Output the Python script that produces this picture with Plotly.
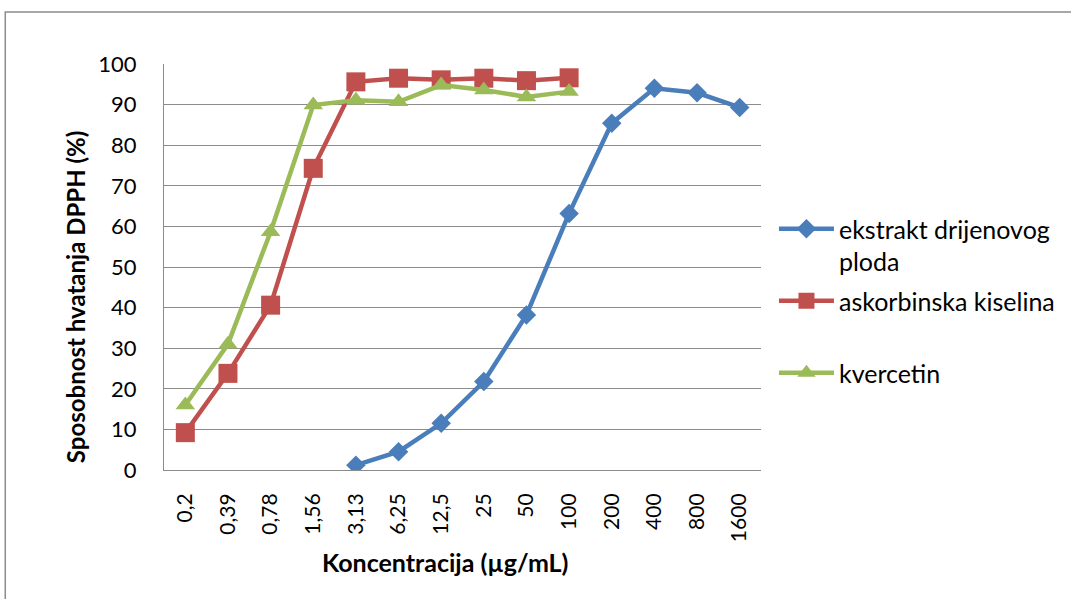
import plotly.graph_objects as go

categories = ["0,2", "0,39", "0,78", "1,56", "3,13", "6,25", "12,5", "25", "50", "100", "200", "400", "800", "1600"]
ekstrakt = [None, None, None, None, 1.2, 4.5, 11.5, 21.8, 38.2, 63.2, 85.4, 94.0, 92.9, 89.3]
askorbinska = [9.2, 23.8, 40.6, 74.3, 95.6, 96.5, 96.1, 96.5, 95.9, 96.6, None, None, None, None]
kvercetin = [16.0, 31.0, 58.7, 89.9, 91.1, 90.7, 94.8, 93.6, 91.9, 93.2, None, None, None, None]
y_ticks = [0, 10, 20, 30, 40, 50, 60, 70, 80, 90, 100]

FONT = "Lato, Carlito, 'Open Sans', sans-serif"

# plot-area geometry in page pixels (used for converting to paper coords)
L, R, T, B = 164, 762, 64, 470
W, H = R - L, B - T

def px(x):
    return (x - L) / W

def py(y):
    return (B - y) / H

fig = go.Figure()
fig.add_trace(go.Scatter(x=categories, y=ekstrakt, mode="lines+markers",
                         name="ekstrakt drijenovog<br>ploda", legendgroup="a",
                         line=dict(color="#4A7EBB", width=4.5),
                         marker=dict(symbol="diamond", size=15, color="#4A7EBB")))
fig.add_trace(go.Scatter(x=categories, y=askorbinska, mode="lines+markers",
                         name="askorbinska kiselina<br> ", legendgroup="b",
                         line=dict(color="#C0504D", width=4.5),
                         marker=dict(symbol="square", size=19, color="#C0504D")))
fig.add_trace(go.Scatter(x=categories, y=kvercetin, mode="lines+markers",
                         name="kvercetin<br> ", legendgroup="c",
                         line=dict(color="#9BBB59", width=4.5),
                         marker=dict(symbol="triangle-up", size=17, color="#9BBB59")))

fig.update_layout(
    width=1071, height=599,
    margin=dict(l=L, r=1071 - R, t=T, b=599 - B),
    paper_bgcolor="white", plot_bgcolor="white",
    font=dict(family=FONT, size=22, color="black"),
    showlegend=True,
    legend=dict(x=1.02, y=py(206), xanchor="left", yanchor="top",
                valign="top",
                font=dict(family=FONT, size=25, color="black"),
                tracegroupgap=4, itemwidth=55, bgcolor="rgba(0,0,0,0)"),
    xaxis=dict(type="category", categoryorder="array", categoryarray=categories,
               tickangle=-90, showgrid=False, showline=True, linecolor="#8c8c8c",
               linewidth=1, ticks="", ticklabelstandoff=14, tickfont=dict(family=FONT, size=21),
               range=[-0.5, 13.5], zeroline=False, automargin=False),
    yaxis=dict(range=[0, 100], tickvals=y_ticks, showgrid=True, gridcolor="#8c8c8c",
               gridwidth=1, showline=True, linecolor="#8c8c8c", linewidth=1,
               ticks="", ticklabelstandoff=22,
               tickfont=dict(family=FONT, size=22), zeroline=False, automargin=False),
)
fig.add_annotation(text="<b>Sposobnost hvatanja DPPH (%)</b>", xref="paper", yref="paper",
                   x=px(75), y=py(297), xanchor="center", yanchor="middle", textangle=-90,
                   showarrow=False, font=dict(family=FONT, size=24, color="black"))
fig.add_annotation(text="<b>Koncentracija (µg/mL)</b>", xref="paper", yref="paper",
                   x=px(445), y=py(562), xanchor="center", yanchor="middle",
                   showarrow=False, font=dict(family=FONT, size=25, color="black"))
fig.add_shape(type="rect", xref="paper", yref="paper",
              x0=px(5), x1=px(1080), y0=py(610), y1=py(12),
              line=dict(color="#8c8c8c", width=1.5), fillcolor="rgba(0,0,0,0)", layer="below")

fig.write_html("out.html", config={"displayModeBar": False},
               post_script="document.body.style.margin='0';")
